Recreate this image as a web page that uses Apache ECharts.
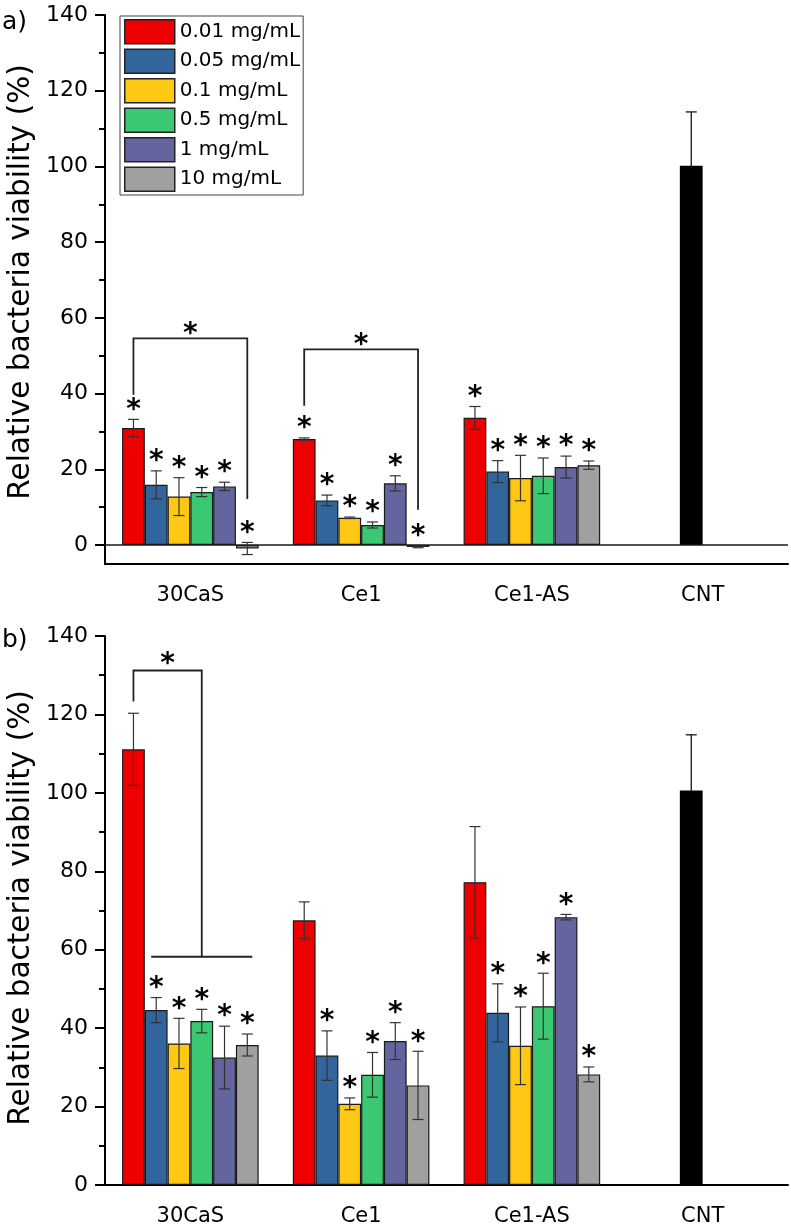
<!DOCTYPE html>
<html><head><meta charset="utf-8">
<script src="https://cdn.jsdelivr.net/npm/echarts@6/dist/echarts.min.js"></script>
<style>html,body{margin:0;padding:0;background:#fff}#c{width:791px;height:1231px}</style>
</head><body><div id="c"></div>
<script>
// ---------- data ----------
const categories = ['30CaS', 'Ce1', 'Ce1-AS', 'CNT'];
const seriesNames = ['0.01 mg/mL', '0.05 mg/mL', '0.1 mg/mL', '0.5 mg/mL', '1 mg/mL', '10 mg/mL'];
const yTickValues = [0, 20, 40, 60, 80, 100, 120, 140];
const yMinorTickValues = [10, 30, 50, 70, 90, 110, 130];

// Panel a) values for 30CaS, Ce1, Ce1-AS (one array per concentration)
const a_001 = [30.9, 28.0, 33.6];
const a_005 = [15.9, 11.8, 19.4];
const a_01  = [12.8, 7.2, 17.7];
const a_05  = [14.0, 5.3, 18.3];
const a_1   = [15.5, 16.3, 20.6];
const a_10  = [-0.9, -0.5, 21.1];
const a_err_001 = [2.3, 0.3, 3.0];
const a_err_005 = [3.7, 1.4, 2.9];
const a_err_01  = [5.0, 0.2, 6.0];
const a_err_05  = [1.2, 0.8, 4.7];
const a_err_1   = [1.1, 2.0, 2.9];
const a_err_10  = [1.6, 0.2, 1.1];
const a_star_001 = [1, 1, 1];
const a_star_005 = [1, 1, 1];
const a_star_01  = [1, 1, 1];
const a_star_05  = [1, 1, 1];
const a_star_1   = [1, 1, 1];
const a_star_10  = [1, 1, 1];
const a_cnt = 100.2, a_cnt_err = 14.2;

// Panel b)
const b_001 = [111.1, 67.5, 77.2];
const b_005 = [44.6, 33.0, 43.9];
const b_01  = [36.1, 20.7, 35.5];
const b_05  = [41.8, 28.1, 45.6];
const b_1   = [32.5, 36.7, 68.3];
const b_10  = [35.7, 25.4, 28.2];
const b_err_001 = [9.2, 4.7, 14.2];
const b_err_005 = [3.2, 6.3, 7.4];
const b_err_01  = [6.4, 1.5, 9.9];
const b_err_05  = [3.0, 5.7, 8.4];
const b_err_1   = [8.0, 4.7, 0.7];
const b_err_10  = [2.8, 8.7, 1.9];
const b_star_001 = [0, 0, 0];
const b_star_005 = [1, 1, 1];
const b_star_01  = [1, 1, 1];
const b_star_05  = [1, 1, 1];
const b_star_1   = [1, 1, 1];
const b_star_10  = [1, 1, 1];
const b_cnt = 100.6, b_cnt_err = 14.2;

// significance brackets (data units; slots = bar index within group)
const a_brackets = [
  {type: 'span', cat: 0, from: 0, to: 5, yFrom: 39.7, yTop: 54.6, yTo: 12.2, yStar: 57.8},
  {type: 'span', cat: 1, from: 0, to: 5, yFrom: 36.8, yTop: 51.7, yTo: 9.3, yStar: 54.8}
];
const b_brackets = [
  {type: 'comb', cat: 0, from: 0, combFrom: 1, combTo: 5, yFrom: 123.3, yTop: 131.2, yComb: 58.2, yStar: 134.6}
];

// ---------- styling ----------
const colors = ['#EE0000', '#33659D', '#FFC815', '#3AC873', '#64649E', '#A0A0A0'];
const FONT = 'DejaVu Sans';
const CNT_SLOT = 2;
const STAR_FONT = 'bold 28px "DejaVu Sans"';
const STAR_GAP = 17;   // px between error-bar top and asterisk centre
const STAR_DY = 8;     // glyph centre correction

function slotX(api, c, s) {
  const band = api.size([1, 0])[0];
  const bw = band * 0.8 / 6;
  return api.coord([c, 0])[0] - band * 0.4 + (s + 0.5) * bw;
}

function starText(x, y) {
  return {type: 'text', x: x, y: y + STAR_DY, z2: 10,
    style: {text: '*', font: STAR_FONT, fill: '#000', align: 'center', verticalAlign: 'middle'}};
}

function buildPanel(idx, vals, errs, stars, cnt, cntErr, brackets, yMin, top) {
  const xa = idx * 2, ya = idx * 2;
  const grid = {left: 105, top: top, width: 683, height: 549};
  const xAxes = [
    {type: 'category', gridIndex: idx, data: categories, position: 'bottom',
      axisLine: {onZero: false, lineStyle: {color: '#000', width: 2}},
      axisTick: {alignWithLabel: true, length: 12, lineStyle: {color: '#000', width: 2}},
      axisLabel: {color: '#000', fontFamily: FONT, fontSize: 21, margin: 21}},
    {type: 'category', gridIndex: idx, data: categories, position: 'bottom',
      axisLine: {show: false, onZero: false},
      axisTick: {length: 5, lineStyle: {color: '#000', width: 2}},
      axisLabel: {show: false}}
  ];
  const yAxes = [
    {type: 'value', gridIndex: idx, min: yMin, max: 140, position: 'left',
      splitLine: {show: false},
      axisLine: {show: true, lineStyle: {color: '#000', width: 2}},
      axisTick: {show: true, length: 10, customValues: yTickValues, lineStyle: {color: '#000', width: 2}},
      axisLabel: {customValues: yTickValues, color: '#000', fontFamily: FONT, fontSize: 22, margin: 17}},
    {type: 'value', gridIndex: idx, min: yMin, max: 140, position: 'left', offset: 0,
      splitLine: {show: false},
      axisLine: {show: false},
      axisTick: {show: true, length: 6, customValues: yMinorTickValues, lineStyle: {color: '#000', width: 2}},
      axisLabel: {show: false, customValues: yMinorTickValues}}
  ];
  const series = [];
  seriesNames.forEach((name, s) => {
    const data = vals[s].map(v => v);
    data.push(s === CNT_SLOT ? {value: cnt, itemStyle: {color: '#000', borderColor: '#000'}} : '-');
    const ser = {
      type: 'bar', name: name, xAxisIndex: xa, yAxisIndex: ya, data: data,
      barGap: '0%', barCategoryGap: '20%', z: 2,
      itemStyle: {color: colors[s], borderColor: '#1a1a1a', borderWidth: 1.2}
    };
    if (s === 0 && yMin < 0) {
      ser.markLine = {silent: true, symbol: ['none', 'none'], label: {show: false},
        lineStyle: {color: '#1a1a1a', width: 1.6, type: 'solid'}, data: [{yAxis: 0}]};
    }
    series.push(ser);
  });
  const errData = [];
  seriesNames.forEach((n, s) => {
    vals[s].forEach((v, c) => errData.push([c, s, v, errs[s][c], stars[s][c]]));
  });
  errData.push([3, CNT_SLOT, cnt, cntErr, 0]);
  series.push({
    type: 'custom', xAxisIndex: xa, yAxisIndex: ya, z: 5, silent: true,
    encode: {x: 0, y: 2}, data: errData,
    renderItem: function (params, api) {
      const c = api.value(0), s = api.value(1), v = api.value(2), e = api.value(3), st = api.value(4);
      const cx = slotX(api, c, s);
      const yT = api.coord([c, v + e])[1];
      const yB = api.coord([c, v - e])[1];
      const h = 5.5;
      const st_ = {stroke: c === 3 ? '#000' : '#333', lineWidth: 1.2};
      const ch = [
        {type: 'line', shape: {x1: cx, y1: yT, x2: cx, y2: yB}, style: st_},
        {type: 'line', shape: {x1: cx - h, y1: yT, x2: cx + h, y2: yT}, style: st_},
        {type: 'line', shape: {x1: cx - h, y1: yB, x2: cx + h, y2: yB}, style: st_}
      ];
      if (st) ch.push(starText(cx, yT - STAR_GAP));
      return {type: 'group', children: ch};
    }
  });
  series.push({
    type: 'custom', xAxisIndex: xa, yAxisIndex: ya, z: 6, silent: true,
    encode: {x: 0, y: 1}, data: brackets.map(b => [b.cat, b.yTop]),
    renderItem: function (params, api) {
      const b = brackets[params.dataIndex];
      const y = v => api.coord([b.cat, v])[1];
      const lw = {stroke: '#222', lineWidth: 1.8, fill: null};
      const ch = [];
      const x0 = slotX(api, b.cat, b.from);
      let x1;
      if (b.type === 'span') {
        x1 = slotX(api, b.cat, b.to);
        ch.push({type: 'polyline', shape: {points: [[x0, y(b.yFrom)], [x0, y(b.yTop)], [x1, y(b.yTop)], [x1, y(b.yTo)]]}, style: lw});
      } else {
        const xa_ = slotX(api, b.cat, b.combFrom), xb_ = slotX(api, b.cat, b.combTo);
        x1 = (xa_ + xb_) / 2;
        ch.push({type: 'polyline', shape: {points: [[x0, y(b.yFrom)], [x0, y(b.yTop)], [x1, y(b.yTop)], [x1, y(b.yComb)]]}, style: lw});
        ch.push({type: 'line', shape: {x1: xa_ - 5, y1: y(b.yComb), x2: xb_ + 5, y2: y(b.yComb)}, style: lw});
      }
      ch.push(starText((x0 + x1) / 2, y(b.yStar)));
      return {type: 'group', children: ch};
    }
  });
  return {grid, xAxes, yAxes, series};
}

const pa = buildPanel(0,
  [a_001, a_005, a_01, a_05, a_1, a_10],
  [a_err_001, a_err_005, a_err_01, a_err_05, a_err_1, a_err_10],
  [a_star_001, a_star_005, a_star_01, a_star_05, a_star_1, a_star_10],
  a_cnt, a_cnt_err, a_brackets, -5, 15);
const pb = buildPanel(1,
  [b_001, b_005, b_01, b_05, b_1, b_10],
  [b_err_001, b_err_005, b_err_01, b_err_05, b_err_1, b_err_10],
  [b_star_001, b_star_005, b_star_01, b_star_05, b_star_1, b_star_10],
  b_cnt, b_cnt_err, b_brackets, 0, 636);

const titleText = 'Relative bacteria viability (%)';
const chart = echarts.init(document.getElementById('c'), null, {renderer: 'canvas'});
chart.setOption({
  animation: false,
  backgroundColor: '#fff',
  grid: [pa.grid, pb.grid],
  xAxis: pa.xAxes.concat(pb.xAxes),
  yAxis: pa.yAxes.concat(pb.yAxes),
  legend: {
    orient: 'vertical', left: 120, top: 16, data: seriesNames, selectedMode: false,
    icon: 'rect', itemWidth: 50, itemHeight: 24, itemGap: 4,
    padding: [3, 3, 3, 4], borderColor: '#444', borderWidth: 1,
    itemStyle: {borderColor: '#222', borderWidth: 1.5},
    textStyle: {color: '#000', fontFamily: FONT, fontSize: 20}
  },
  graphic: [
    {type: 'text', left: 2, top: 10, style: {text: 'a)', font: '25px "DejaVu Sans"', fill: '#000'}},
    {type: 'text', left: 2, top: 628, style: {text: 'b)', font: '25px "DejaVu Sans"', fill: '#000'}},
    {type: 'text', x: 21, y: 282, rotation: Math.PI / 2,
      style: {text: titleText, font: '29.5px "DejaVu Sans"', fill: '#000', align: 'center', verticalAlign: 'middle'}},
    {type: 'text', x: 21, y: 908, rotation: Math.PI / 2,
      style: {text: titleText, font: '29.5px "DejaVu Sans"', fill: '#000', align: 'center', verticalAlign: 'middle'}}
  ],
  series: pa.series.concat(pb.series)
});
</script></body></html>
